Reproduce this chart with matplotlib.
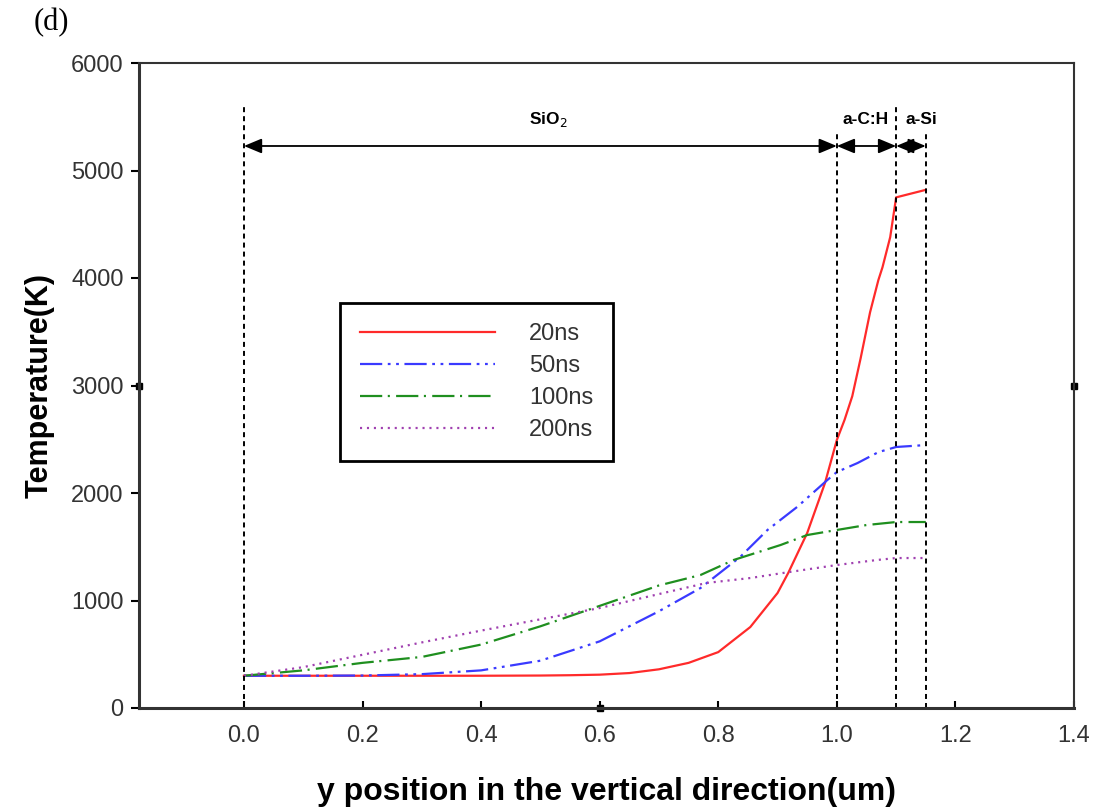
import numpy as np
import matplotlib
matplotlib.use('Agg')
import matplotlib.pyplot as plt

plt.rcParams['font.family'] = ['Liberation Sans', 'DejaVu Sans']
plt.rcParams['lines.scale_dashes'] = False

# 数据
x_20 = [0, 0.1, 0.2, 0.3, 0.4, 0.5, 0.55, 0.6, 0.65, 0.7, 0.75, 0.8, 0.854, 0.9,
        0.918, 0.95, 0.98, 1.0, 1.013, 1.026, 1.04, 1.056, 1.07, 1.077, 1.09, 1.1, 1.15]
T_20 = [300, 300, 300, 300, 300, 302, 305, 310, 325, 360, 420, 520, 753, 1070,
        1256, 1628, 2093, 2493, 2680, 2900, 3250, 3680, 3980, 4100, 4380, 4750, 4820]

x_50 = [0, 0.1, 0.2, 0.3, 0.4, 0.5, 0.6, 0.7, 0.77, 0.837, 0.883, 0.933, 0.984,
        1.0, 1.035, 1.07, 1.1, 1.15]
T_50 = [300, 300, 302, 315, 350, 440, 620, 900, 1116, 1405, 1656, 1870, 2121,
        2195, 2279, 2380, 2428, 2446]

x_100 = [0, 0.1, 0.2, 0.3, 0.4, 0.5, 0.6, 0.7, 0.77, 0.826, 0.905, 0.95, 1.0,
         1.05, 1.1, 1.15]
T_100 = [300, 350, 420, 475, 590, 760, 950, 1140, 1237, 1377, 1516, 1609, 1656,
         1702, 1730, 1730]

x_200 = [0, 0.1, 0.2, 0.3, 0.4, 0.5, 0.6, 0.7, 0.78, 0.854, 0.92, 1.0, 1.068,
         1.1, 1.15]
T_200 = [300, 380, 495, 610, 720, 825, 930, 1060, 1163, 1209, 1265, 1330, 1377,
         1395, 1395]

labels = ['20ns', '50ns', '100ns', '200ns']
boundaries = [0.0, 1.0, 1.1, 1.15]
layers = ['SiO$_2$', 'a-C:H', 'a-Si']

fig = plt.figure(figsize=(10.96, 8.07), dpi=100)
ax = fig.add_axes([139 / 1096, 1 - 708 / 807, (1074 - 139) / 1096, (708 - 63) / 807])

ax.plot(x_20, T_20, color='#ff2a2a', lw=1.6, label=labels[0])
ax.plot(x_50, T_50, color='#3a3aff', lw=1.6, dashes=[16, 4, 2, 4, 2, 4], label=labels[1])
ax.plot(x_100, T_100, color='#1f8f1f', lw=1.6, dashes=[16, 4, 1.5, 4.5], label=labels[2])
ax.plot(x_200, T_200, color='#a040b0', lw=1.6, dashes=[1.5, 3.5], label=labels[3])

# 分层虚线
tops = [5600, 5350, 5600, 5350]
for b, t in zip(boundaries, tops):
    ax.plot([b, b], [0, t], color='black', lw=1.4, dashes=[3.6, 2.9])

# 双向箭头和层名
y_arrow = 5228
for i in range(3):
    ax.annotate('', xy=(boundaries[i], y_arrow), xytext=(boundaries[i + 1], y_arrow),
                arrowprops=dict(arrowstyle='<|-|>,head_length=0.6,head_width=0.25',
                                color='black', lw=1.3, shrinkA=0, shrinkB=0,
                                mutation_scale=18))
label_x = [0.513, 1.049, 1.142]
for lx, name in zip(label_x, layers):
    ax.text(lx, 5430, name, fontsize=12.5, fontweight='bold', ha='center', va='baseline')

# 轴上的小黑块
ax.plot([-0.177, 1.4], [3000, 3000], ls='none', marker='s', ms=4, color='black', clip_on=False)
ax.plot([0.6], [0], ls='none', marker='s', ms=4, color='black', clip_on=False)

ax.set_xlim(-0.177, 1.4)
ax.set_ylim(0, 6000)
ax.set_xticks([0.0, 0.2, 0.4, 0.6, 0.8, 1.0, 1.2, 1.4])
ax.set_xticklabels(['0.0', '0.2', '0.4', '0.6', '0.8', '1.0', '1.2', '1.4'])
ax.set_yticks([0, 1000, 2000, 3000, 4000, 5000, 6000])
ax.tick_params(axis='x', direction='in', length=5, width=1.5, labelsize=17,
               labelcolor='#333333', pad=12)
ax.tick_params(axis='y', direction='out', length=6, width=1.5, labelsize=17,
               labelcolor='#333333', pad=5)
for s in ['left', 'bottom']:
    ax.spines[s].set_linewidth(2.2)
for s in ['top', 'right']:
    ax.spines[s].set_linewidth(1.5)
for s in ax.spines.values():
    s.set_color('#333333')

ax.set_xlabel('y position in the vertical direction(um)', fontsize=23,
              fontweight='bold', labelpad=22)
ax.set_ylabel('Temperature(K)', fontsize=22, fontweight='bold', labelpad=12)

leg = ax.legend(loc='upper left', bbox_to_anchor=((340 - 139) / 935, (708 - 303) / 645),
                fontsize=17, handlelength=5.7, handletextpad=1.45, labelspacing=0.42,
                borderpad=0.85, borderaxespad=0, fancybox=False, framealpha=1,
                edgecolor='black')
leg.get_frame().set_linewidth(2)
for t in leg.get_texts():
    t.set_color('#333333')

fig.text(34 / 1096, 1 - 23 / 807, '(d)', fontsize=22, family='Liberation Serif',
         ha='left', va='center')

fig.savefig('out.png', dpi=100)
